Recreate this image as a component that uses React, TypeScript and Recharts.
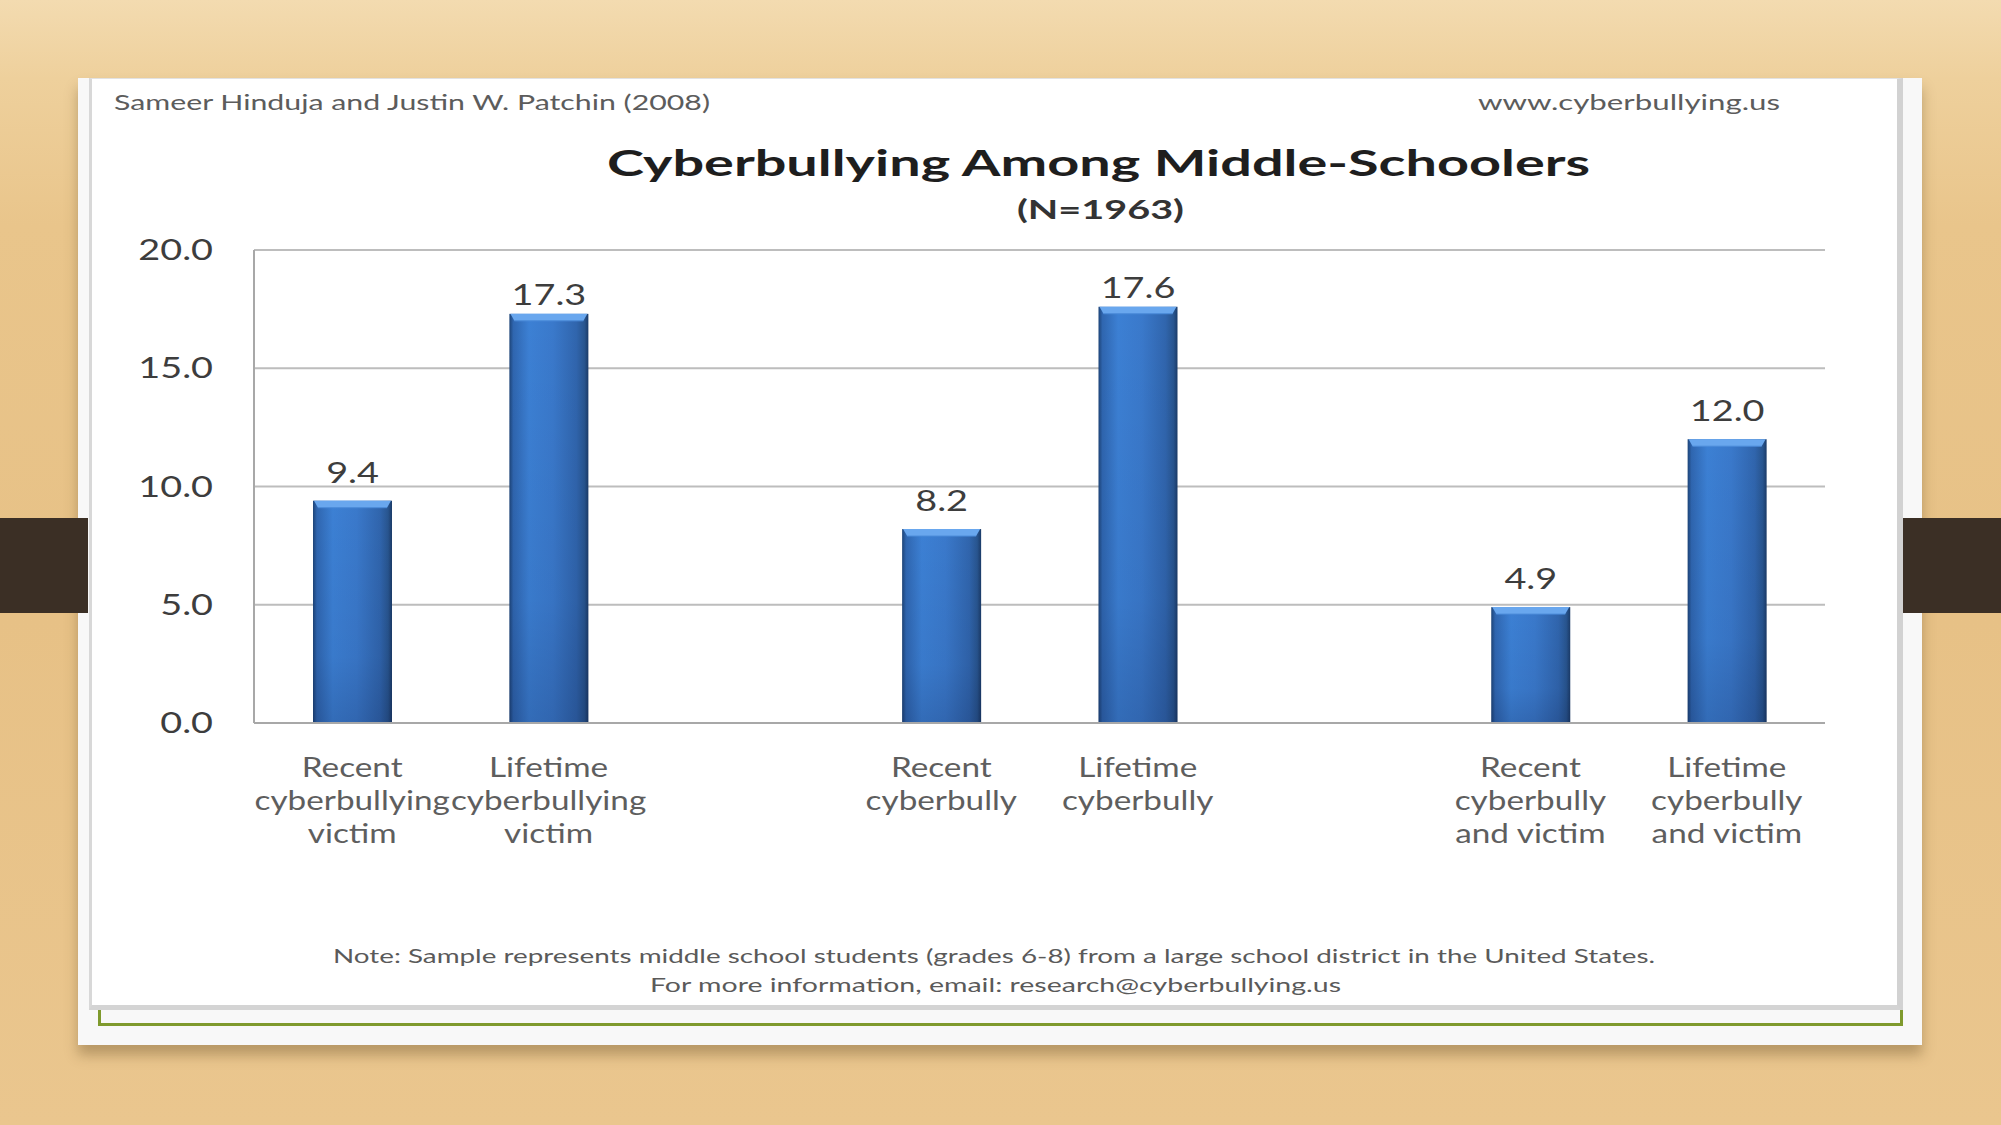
import React from "react";
import { BarChart, Bar, XAxis, YAxis, CartesianGrid, LabelList } from "recharts";

// ---- data ----
const slotIds: string[] = ["s1", "s2", "s3", "s4", "s5", "s6", "s7", "s8"];
const categoryLabels: string[][] = [
  ["Recent", "cyberbullying", "victim"],
  ["Lifetime", "cyberbullying", "victim"],
  [],
  ["Recent", "cyberbully"],
  ["Lifetime", "cyberbully"],
  [],
  ["Recent", "cyberbully", "and victim"],
  ["Lifetime", "cyberbully", "and victim"],
];
const percentValues: (number | null)[] = [9.4, 17.3, null, 8.2, 17.6, null, 4.9, 12.0];
const yTicks: number[] = [0, 5, 10, 15, 20];

const chartTitle = "Cyberbullying Among Middle-Schoolers";
const chartSubtitle = "(N=1963)";
const headerLeft = "Sameer Hinduja and Justin W. Patchin (2008)";
const headerRight = "www.cyberbullying.us";
const noteLine1 =
  "Note: Sample represents middle school students (grades 6-8) from a large school district in the United States.";
const noteLine2 = "For more information,  email: research@cyberbullying.us";

const data = slotIds.map((id, i) => ({ slot: id, value: percentValues[i] }));

const FONT = "Lato, 'Open Sans', 'DejaVu Sans', sans-serif";

const YTick = (props: any) => {
  const { x, y, payload } = props;
  return (
    <g transform={`translate(${x} ${y}) scale(1.35 1)`}>
      <text x={0} y={0} dy={10} textAnchor="end" fontFamily={FONT} fontSize={28} fill="#3d3d3d">
        {Number(payload.value).toFixed(1)}
      </text>
    </g>
  );
};

const XTick = (props: any) => {
  const { x, y, payload } = props;
  const idx = slotIds.indexOf(payload.value);
  const lines = idx >= 0 ? categoryLabels[idx] : [];
  if (!lines.length) return null;
  return (
    <g transform={`translate(${x} ${y}) scale(1.28 1)`}>
      <text x={0} y={0} textAnchor="middle" fontFamily={FONT} fontSize={26} fill="#5e5e5e">
        {lines.map((l, i) => (
          <tspan key={i} x={0} y={54 + i * 33}>
            {l}
          </tspan>
        ))}
      </text>
    </g>
  );
};

const ValueLabel = (props: any) => {
  const { x, y, width, value } = props;
  if (value === null || value === undefined) return null;
  const gap = value > 15 ? 9 : 18;
  return (
    <g transform={`translate(${x + width / 2} ${y - gap}) scale(1.35 1)`}>
      <text x={0} y={0} textAnchor="middle" fontFamily={FONT} fontSize={28} fill="#3d3d3d">
        {Number(value).toFixed(1)}
      </text>
    </g>
  );
};

const BarShape = (props: any) => {
  const { x, y, width, height } = props;
  if (!height || height <= 0) return null;
  const b = 7;
  return (
    <g>
      <rect x={x} y={y} width={width} height={height} fill="url(#barBody)" />
      <rect x={x} y={y} width={width} height={height} fill="url(#barShade)" />
      <path
        d={`M${x + 1},${y} L${x + width - 1},${y} L${x + width - 5},${y + b} L${x + 5},${y + b} Z`}
        fill="#69a7ee"
      />
      <line x1={x + 5} y1={y + b} x2={x + width - 5} y2={y + b} stroke="#4a8ad8" strokeWidth={1} />
    </g>
  );
};

export default function App() {
  return (
    <div
      style={{
        position: "absolute",
        left: 0,
        top: 0,
        width: 2001,
        height: 1125,
        overflow: "hidden",
        background:
          "linear-gradient(180deg, #f3dbb0 0%, #eed09c 7%, #e9c58b 20%, #e7c186 55%, #eac68e 100%)",
      }}
    >
      {/* slide panel */}
      <div
        style={{
          position: "absolute",
          left: 78,
          top: 78,
          width: 1844,
          height: 967,
          background: "#f8f8f8",
          boxShadow: "0 10px 12px rgba(90,65,30,0.35)",
        }}
      />
      {/* chart picture frame */}
      <div
        style={{
          position: "absolute",
          left: 89,
          top: 78,
          width: 1814,
          height: 932,
          boxSizing: "border-box",
          background: "#ffffff",
          borderTop: "1px solid #e2e2e2",
          borderLeft: "3px solid #d8d8d8",
          borderRight: "6px solid #d2d2d2",
          borderBottom: "5px solid #d4d4d4",
        }}
      />
      {/* green bracket */}
      <div
        style={{
          position: "absolute",
          left: 98,
          top: 1010,
          width: 1805,
          height: 16,
          boxSizing: "border-box",
          borderLeft: "3px solid #7f9a2d",
          borderRight: "3px solid #7f9a2d",
          borderBottom: "3px solid #7f9a2d",
        }}
      />

      <div style={{ position: "absolute", left: 0, top: 0 }}>
        <BarChart
          width={2001}
          height={1125}
          data={data}
          margin={{ top: 250, right: 176, bottom: 252, left: 154 }}
          barSize={79}
        >
          <defs>
            <linearGradient id="barBody" x1="0" y1="0" x2="1" y2="0">
              <stop offset="0%" stopColor="#1d4478" />
              <stop offset="5%" stopColor="#2f66b0" />
              <stop offset="25%" stopColor="#3c80d4" />
              <stop offset="55%" stopColor="#3a79cb" />
              <stop offset="85%" stopColor="#3065ad" />
              <stop offset="95%" stopColor="#28558f" />
              <stop offset="100%" stopColor="#1b3b68" />
            </linearGradient>
            <linearGradient id="barShade" x1="0" y1="0" x2="0" y2="1">
              <stop offset="0%" stopColor="#000020" stopOpacity={0} />
              <stop offset="70%" stopColor="#000020" stopOpacity={0.05} />
              <stop offset="100%" stopColor="#000020" stopOpacity={0.16} />
            </linearGradient>
          </defs>
          <CartesianGrid vertical={false} stroke="#bdbdbd" strokeWidth={2} />
          <XAxis
            dataKey="slot"
            height={150}
            interval={0}
            tickSize={0}
            tickMargin={0}
            axisLine={{ stroke: "#a8a8a8", strokeWidth: 2 }}
            tickLine={false}
            tick={<XTick />}
          />
          <YAxis
            width={100}
            domain={[0, 20]}
            ticks={yTicks}
            interval={0}
            tickSize={0}
            tickMargin={41}
            axisLine={{ stroke: "#a8a8a8", strokeWidth: 2 }}
            tickLine={false}
            tick={<YTick />}
          />
          <Bar dataKey="value" isAnimationActive={false} shape={<BarShape />}>
            <LabelList dataKey="value" content={<ValueLabel />} />
          </Bar>
        </BarChart>
      </div>

      {/* texts overlay */}
      <svg
        width={2001}
        height={1125}
        style={{ position: "absolute", left: 0, top: 0, pointerEvents: "none" }}
      >
        <text x={114} y={110} textLength={596} lengthAdjust="spacingAndGlyphs" fontFamily={FONT} fontSize={22} fill="#5c5c5c">
          {headerLeft}
        </text>
        <text x={1478} y={110} textLength={302} lengthAdjust="spacingAndGlyphs" fontFamily={FONT} fontSize={22} fill="#5c5c5c">
          {headerRight}
        </text>
        <text x={607} y={176} textLength={983} lengthAdjust="spacingAndGlyphs" fontFamily={FONT} fontWeight="bold" fontSize={36} fill="#1e1e1e">
          {chartTitle}
        </text>
        <text x={1017} y={219} textLength={167} lengthAdjust="spacingAndGlyphs" fontFamily={FONT} fontWeight="bold" fontSize={27} fill="#333333">
          {chartSubtitle}
        </text>
        <text x={333} y={963} textLength={1322} lengthAdjust="spacingAndGlyphs" fontFamily={FONT} fontSize={20} fill="#5a5a5a">
          {noteLine1}
        </text>
        <text x={650} y={992} textLength={691} lengthAdjust="spacingAndGlyphs" fontFamily={FONT} fontSize={20} fill="#5a5a5a">
          {noteLine2}
        </text>
      </svg>

      {/* dark side bands */}
      <div style={{ position: "absolute", left: 0, top: 518, width: 88, height: 95, background: "#3b2f25" }} />
      <div style={{ position: "absolute", left: 1903, top: 518, width: 98, height: 95, background: "#3b2f25" }} />
    </div>
  );
}
